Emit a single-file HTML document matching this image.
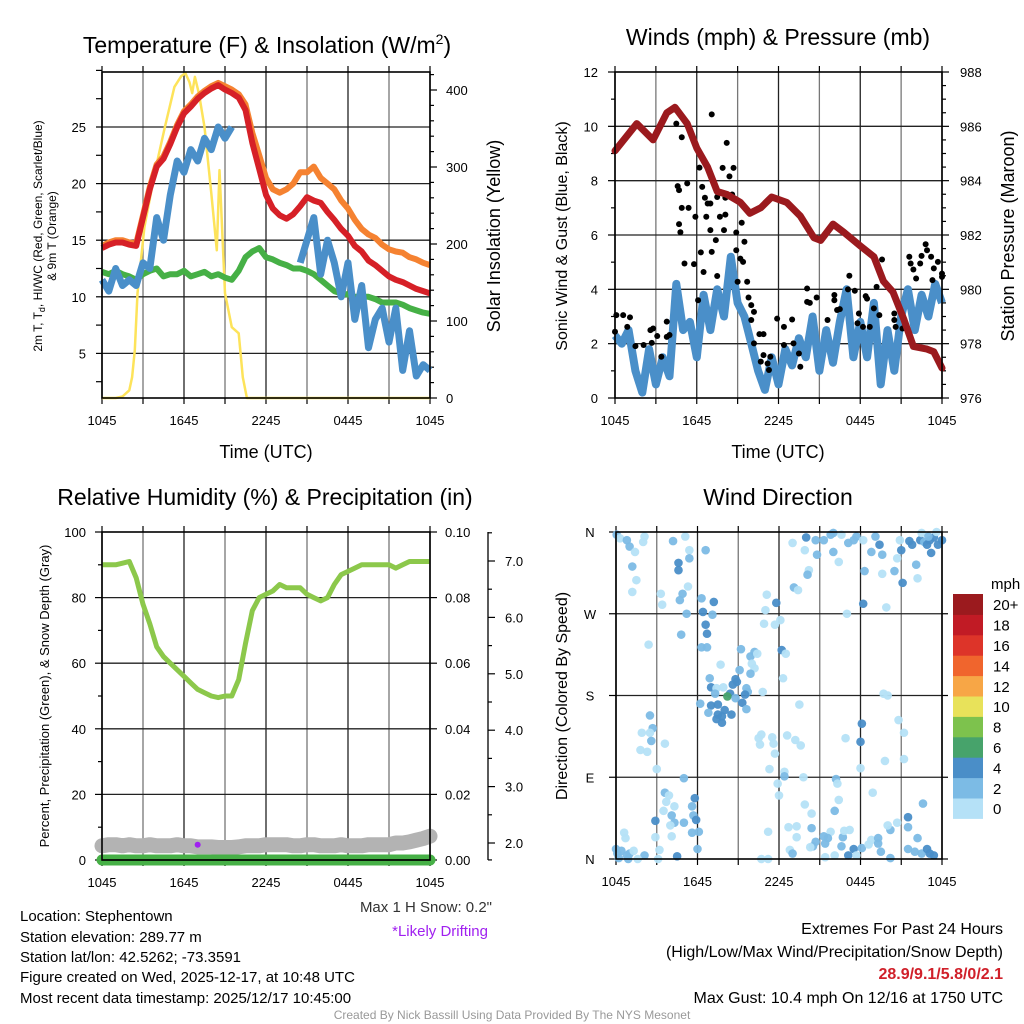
<!DOCTYPE html>
<html><head><meta charset="utf-8"><style>
html,body{margin:0;padding:0;background:#fff;}
svg{display:block;font-family:"Liberation Sans",Arial,sans-serif;}
</style></head><body>
<svg id="chart" width="1024" height="1024" viewBox="0 0 1024 1024" xmlns="http://www.w3.org/2000/svg">
<rect x="0" y="0" width="1024" height="1024" fill="#fff"/>
<text x="267" y="53" font-size="23" text-anchor="middle">Temperature (F) &amp; Insolation (W/m<tspan font-size="14" dy="-9">2</tspan><tspan dy="9">)</tspan></text>
<text x="778" y="45" font-size="23" text-anchor="middle">Winds (mph) &amp; Pressure (mb)</text>
<text x="265" y="505" font-size="23" text-anchor="middle">Relative Humidity (%) &amp; Precipitation (in)</text>
<text x="778" y="505" font-size="23" text-anchor="middle">Wind Direction</text>
<text x="266" y="458" font-size="18" text-anchor="middle">Time (UTC)</text>
<text x="778" y="458" font-size="18" text-anchor="middle">Time (UTC)</text>
<text transform="translate(42,236) rotate(-90)" font-size="12" text-anchor="middle">2m T, T<tspan font-size="9" dy="3">d</tspan><tspan dy="-3">, HI/WC (Red, Green, Scarlet/Blue)</tspan></text>
<text transform="translate(56,236) rotate(-90)" font-size="12" text-anchor="middle">&amp; 9m T (Orange)</text>
<text transform="translate(500,236) rotate(-90)" font-size="18" text-anchor="middle">Solar Insolation (Yellow)</text>
<text transform="translate(567,236) rotate(-90)" font-size="16" text-anchor="middle">Sonic Wind &amp; Gust (Blue, Black)</text>
<text transform="translate(1014,236) rotate(-90)" font-size="18" text-anchor="middle">Station Pressure (Maroon)</text>
<text transform="translate(49,696) rotate(-90)" font-size="13" text-anchor="middle">Percent, Precipitation (Green), &amp; Snow Depth (Gray)</text>
<text transform="translate(567,696) rotate(-90)" font-size="16" text-anchor="middle">Direction (Colored By Speed)</text>
<g font-size="15">
<text x="20" y="921">Location: Stephentown</text>
<text x="20" y="942">Station elevation: 289.77 m</text>
<text x="20" y="962">Station lat/lon: 42.5262; -73.3591</text>
<text x="20" y="982">Figure created on Wed, 2025-12-17, at 10:48 UTC</text>
<text x="20" y="1003">Most recent data timestamp: 2025/12/17 10:45:00</text>
</g>
<text x="492" y="912" font-size="15" text-anchor="end" fill="#333">Max 1 H Snow: 0.2"</text>
<text x="488" y="936" font-size="15" text-anchor="end" fill="#a020f0">*Likely Drifting</text>
<g font-size="16" text-anchor="end">
<text x="1003" y="934">Extremes For Past 24 Hours</text>
<text x="1003" y="957">(High/Low/Max Wind/Precipitation/Snow Depth)</text>
<text x="1003" y="979" font-weight="bold" fill="#d0202a">28.9/9.1/5.8/0/2.1</text>
<text x="1003" y="1003">Max Gust: 10.4 mph On 12/16 at 1750 UTC</text>
</g>
<text x="512" y="1019" font-size="12" text-anchor="middle" fill="#999">Created By Nick Bassill Using Data Provided By The NYS Mesonet</text>
</svg>
<script>
// ===== DATA =====
const halfHours = [0,0.5,1,1.5,2,2.5,3,3.5,4,4.5,5,5.5,6,6.5,7,7.5,8,8.5,9,9.5,10,10.5,11,11.5,12,12.5,13,13.5,14,14.5,15,15.5,16,16.5,17,17.5,18,18.5,19,19.5,20,20.5,21,21.5,22,22.5,23,23.5,24];
const tempRed = [14.3,14.6,14.8,14.8,14.6,14.5,17,19.5,21.5,22.2,23.5,25,26.2,26.8,27.5,28,28.4,28.7,28.3,28,27.6,26.5,23.6,21.3,19,17.8,17.2,16.9,17.3,18,18.8,18.5,18.3,17.5,16.8,16,15.4,14.5,14,13.2,12.8,12.3,11.8,11.5,11.3,11,10.7,10.5,10.3];
const temp9mOrange = [14.5,14.8,15,15,14.8,14.7,17.2,19.7,21.7,22.4,23.7,25.2,26.4,27,27.7,28.2,28.6,28.9,28.6,28.3,27.9,27,24.5,22.5,20.5,19.5,19.2,19.5,20,21,21,21.5,20.5,20,19.5,18.5,17.8,16.8,16,15.5,15.2,14.6,14.2,14,13.9,13.5,13.3,13,12.8];
const dewGreen = [12.2,12,12.3,12,11.8,11.5,12,12.3,12.5,11.8,12,12,12.3,11.8,12,12.2,11.8,12,11.7,11.5,12.3,13.5,14,14.3,13.5,13.3,13,12.8,12.5,12.5,12.3,12,11.5,11,10.5,10.3,10.2,10,10,10,9.8,9.5,9.5,9.5,9.3,9,8.8,8.6,8.5];
const hiwcBlue = [11.5,10.5,12.5,11,11.5,11,13,12.5,17,15,19,22,21,23,22,24,23,25,24,25,null,null,null,null,null,null,null,null,null,13,15,17,12,15,13,10,13,8,11,5.5,8,9,6,9,3.5,7,3,4,3.5];
const solarHours = [0,1,1.5,2,2.2,2.4,2.6,3.1,3.9,4.6,5.3,5.8,6.1,6.4,6.6,6.8,7.1,7.5,8,8.4,8.6,9,9.5,10,10.3,10.6,11,24];
const solarValues = [0,0,2,10,27,62,136,222,296,352,404,418,422,410,396,417,395,352,266,192,296,136,92,84,27,0,0,0];
const windBlue = [2.3,2.0,2.5,1.0,0.2,1.8,0.5,1.5,0.8,4.2,2.5,2.8,1.5,3.8,2.5,4.0,3.0,5.2,3.5,3.0,2.0,1.0,0.3,1.5,0.5,1.8,1.2,2.2,1.5,3.0,1.0,2.5,1.3,2.8,4.0,1.5,2.8,1.5,3.5,0.5,2.5,1.0,3.0,4.0,2.5,3.8,3.0,4.2,3.5];
const pressHours = [0,1.6,2.8,3.8,4.4,5.3,6,6.8,7.5,8.2,9.2,9.9,10.7,11.5,12.6,13.6,14.6,15.1,16,16.8,18,19,19.7,20.4,21.2,21.9,22.9,23.4,24];
const pressValues = [985.1,986.1,985.5,986.5,986.7,986.1,985.2,984.5,983.6,983.5,983.2,982.8,983,983.4,983.2,982.7,981.9,981.8,982.4,982.1,981.6,981.2,980.3,979.9,978.9,977.9,977.8,977.7,977.1];
const gustHours = [0,0.1,0.6,1.1,0.9,1.5,2.1,2.7,2.6,2.8,3.1,3.4,3.8,3.8,4.0,4.5,4.9,4.6,4.7,5.3,4.9,5.4,4.7,4.8,5.1,5.8,6.1,5.9,6.2,6.4,6.6,6.8,7.0,6.7,7.0,7.4,7.1,6.3,6.5,7.5,7.1,8.2,7.9,8.7,8.4,7.5,8.1,8.6,7.7,8.1,8.0,8.9,8.9,9.3,9.5,9.2,9.4,9.0,9.7,9.8,10.0,10.2,10.0,10.2,10.6,10.9,10.9,10.7,11.2,11.4,11.3,11.9,12.4,13.0,12.4,13.1,13.5,13.6,14.1,14.1,14.3,14.8,15.6,16.1,16.1,16.3,16.5,17.2,17.1,17.6,18.4,18.5,19.0,17.9,17.8,18.2,18.7,19.2,19.4,19.6,20.5,20.5,20.6,21.1,21.6,21.7,21.9,22.1,22.4,22.5,22.8,22.9,23.2,23.4,23.7,24.0,24.0,23.3];
const gustValues = [2.44,3.05,3.05,2.97,2.62,1.91,1.95,2.03,2.5,2.56,2.28,1.52,2.81,2.25,2.32,10.1,9.6,7.8,7.65,7.9,7.0,7.0,6.4,6.1,4.95,4.93,3.6,6.67,8.48,7.77,7.37,7.16,7.16,6.67,6.18,5.81,5.38,5.36,4.64,4.49,10.44,9.39,8.47,8.47,8.16,7.4,7.37,7.49,6.67,6.75,6.18,6.09,5.44,6.45,5.75,5.13,5.01,4.28,4.28,3.7,3.42,3.17,2.87,2.01,2.35,2.35,1.58,1.34,1.27,1.52,1.03,2.92,2.62,2.89,1.95,2.01,1.64,1.15,4.03,3.54,3.5,3.7,2.87,3.79,3.6,3.24,3.27,4.5,4.0,3.95,3.75,3.66,3.3,3.11,2.75,2.62,2.62,4.09,3.05,5.1,3.11,2.87,2.62,2.56,5.2,4.95,4.73,4.4,4.95,5.23,5.66,5.44,5.2,4.77,5.01,4.46,4.58,4.34];
const rhGreen = [90,90,90,90.5,91,86,78,72,65,62,60,58,56,54,52,51,50,49.5,50,50,55,66,76,80,81,82,84,83,83,83,81,80,79,80,84,87,88,89,90,90,90,90,90,89,90,91,91,91,91];
const snowDepth = [1.95,1.97,1.97,1.95,1.97,1.95,1.95,1.97,1.95,1.95,1.95,1.97,1.95,1.95,1.93,1.93,1.93,1.92,1.92,1.92,1.93,1.95,1.95,1.95,1.97,1.97,1.97,1.97,1.95,1.95,1.97,1.97,1.95,1.95,1.95,1.97,1.95,1.95,1.95,1.97,1.97,1.97,1.97,2.0,2.0,2.02,2.05,2.08,2.12];
const precipGreen = [0,0,0,0,0,0,0,0,0,0,0,0,0,0,0,0,0,0,0,0,0,0,0,0,0,0,0,0,0,0,0,0,0,0,0,0,0,0,0,0,0,0,0,0,0,0,0,0,0];
const driftHours = [7.0];
const driftValues = [1.97];
const dirHours = [0.05,0.3,0.8,1.0,1.4,2.1,2.0,1.2,1.5,1.2,4.2,5.1,5.4,6.6,4.6,4.6,5.4,5.3,4.9,3.3,3.4,4.7,5.2,6.3,7.2,6.4,7.1,6.6,6.7,4.8,2.4,6.3,6.7,13.0,13.9,14.0,14.7,14.8,15.3,15.8,16.0,16.6,16.0,16.4,14.2,14.1,13.1,13.4,11.1,11.8,11.0,10.9,11.7,12.1,17.0,17.1,17.5,17.7,18.2,18.3,18.2,18.8,19.1,19.4,19.6,19.6,19.9,20.5,20.7,20.9,21.0,21.1,21.6,21.8,22.1,22.2,22.4,22.5,22.7,22.9,23.1,23.2,23.4,23.6,23.7,24.0,23.0,
7.7,9.2,9.9,10.2,10.4,10.0,10.2,9.9,9.1,8.8,8.9,8.6,6.9,7.0,7.4,7.9,7.3,9.6,9.7,9.5,8.4,8.2,8.8,9.3,9.6,6.2,7.0,7.5,8.0,8.5,7.5,7.8,7.8,6.8,7.4,10.8,12.2,12.5,12.3,
13.5,19.7,20.0,20.8,21.2,18.1,18.0,16.9,12.6,13.2,13.6,10.5,10.7,10.6,11.5,11.6,11.7,11.3,12.4,12.4,11.9,12.0,13.8,16.2,16.3,18.0,19.8,21.2,2.5,2.7,2.5,1.9,2.6,3.6,1.8,2.3,3.0,5.0,
3.6,3.7,3.9,4.3,3.5,4.1,2.9,4.3,5.0,5.6,5.8,5.7,5.9,4.0,2.9,4.1,5.6,6.1,0.6,0.7,6.0,3.2,4.5,0.0,0.1,0.4,0.8,1.0,1.3,2.1,1.6,0.9,0.2,3.1,
12.7,13.3,13.3,14.4,13.9,14.4,16.1,16.4,15.8,15.3,15.6,14.7,14.5,14.3,15.4,16.7,16.8,17.2,16.6,17.5,17.1,18.1,17.7,18.9,18.6,18.8,19.3,19.3,19.5,20.2,20.0,20.7,21.5,21.5,22.2,22.6,21.5,22.0,22.5,22.9,23.1,23.4,20.2,10.7,11.2,11.2,12.8,13.0,15.4,16.1];
const dirDegrees = [357,353,351,344,338,355,349,322,307,294,350,355,340,340,326,318,331,300,292,292,280,285,270,287,283,272,269,258,248,247,236,233,233,348,340,354,351,335,351,357,359,357,338,327,318,313,299,296,291,282,274,259,258,263,270,348,351,355,351,317,281,338,355,346,335,314,277,317,331,351,340,304,350,346,324,309,351,359,349,346,351,337,354,360,346,351,355,
214,231,223,228,226,215,210,204,208,198,195,192,199,189,188,189,182,188,184,181,182,179,177,172,165,171,169,170,164,159,159,157,150,161,154,184,230,226,199,
170,182,180,153,139,149,129,133,136,131,125,133,137,126,134,127,116,99,96,91,83,70,90,88,83,100,108,110,158,144,139,139,130,127,120,118,99,89,
73,63,70,58,53,48,42,40,40,58,67,48,43,37,24,25,29,30,29,23,11,10,3,11,6,9,4,6,9,4,0,0,1,0,
35,36,24,34,60,50,53,65,30,25,23,19,14,13,17,24,31,32,14,11,4,12,4,73,16,21,23,17,8,32,37,40,46,35,23,61,11,8,6,11,6,4,1,0,0,30,10,6,2,4];
const dirSpeeds = [3,1,3,3,1,1,1,3,1,1,3,1,1,3,4.5,4.5,3,1,3,1,1,3,3,3,4.5,4.5,3,4.5,4.5,3,1,3,3,1,1,4.5,3,3,3,3,3,1,3,1,1,3,3,1,1,4.5,1,1,1,1,1,3,3,3,1,3,4.5,3,3,4.5,3,1,1,3,1,1,4.5,4.5,4.5,4.5,3,1,4.5,1,3,4.5,4.5,4.5,4.5,1,4.5,4.5,3,
1,3,3,3,1,1,1,3,3,4.5,4.5,4.5,3,4.5,1,1,3,3,3,4.5,4.5,6.5,3,4.5,3,3,4.5,4.5,4.5,4.5,4.5,4.5,4.5,3,4.5,1,4.5,1,1,
1,1,1,1,1,4.5,4.5,1,1,1,1,1,1,1,1,1,1,1,1,3,1,1,1,3,1,1,1,1,3,3,1,1,3,1,1,1,1,3,
3,1,1,1,1,3,4.5,3,3,3,4.5,3,4.5,1,1,1,3,3,1,1,3,1,4.5,3,3,3,3,3,1,3,1,3,3,1,
1,1,1,3,1,1,3,1,1,3,3,3,3,1,3,3,1,1,3,4.5,4.5,3,1,1,1,1,3,3,3,3,1,1,4.5,3,3,3,3,3,3,4.5,4.5,4.5,3,1,1,1,1,3,1,1];
const speedLabels = ["0","2","4","6","8","10","12","14","16","18","20+"];
const speedColors = ["#b5e1f7","#7cbbe5","#4a8ec8","#47a36b","#7dc24d","#e8e25a","#f7a646","#f0652d","#dd3429","#c11b25","#9b1a1e"];
const xTickLabels = ["1045","1645","2245","0445","1045"];
const tempTicks = [5,10,15,20,25];
const solarTicks = [0,100,200,300,400];
const windTicks = [0,2,4,6,8,10,12];
const pressTicks = [976,978,980,982,984,986,988];
const rhTicks = [0,20,40,60,80,100];
const precipTicks = ["0.00","0.02","0.04","0.06","0.08","0.10"];
const snowTicks = ["2.0","3.0","4.0","5.0","6.0","7.0"];
const dirTickLabels = ["N","E","S","W","N"];

// ===== HELPERS =====
const NS = "http://www.w3.org/2000/svg";
const svg = document.getElementById('chart');
function mk(tag, attrs, parent) {
  const e = document.createElementNS(NS, tag);
  for (const k in attrs) e.setAttribute(k, attrs[k]);
  (parent || svg).appendChild(e);
  return e;
}
function lin(d0, d1, r0, r1) { return v => r0 + (v - d0) * (r1 - r0) / (d1 - d0); }
function pathFrom(xs, ys, xf, yf) {
  let d = "", pen = false;
  for (let i = 0; i < xs.length; i++) {
    if (ys[i] === null || ys[i] === undefined) { pen = false; continue; }
    d += (pen ? "L" : "M") + xf(xs[i]).toFixed(1) + "," + yf(ys[i]).toFixed(1);
    pen = true;
  }
  return d;
}

// ===== PANEL FRAMES / GRIDS =====
const panels = [
  {name: "temp", x0: 102, x1: 430, y0: 72, y1: 398},
  {name: "winds", x0: 615, x1: 942, y0: 72, y1: 398},
  {name: "humidity", x0: 102, x1: 430, y0: 532, y1: 860},
  {name: "direction", x0: 616, x1: 942, y0: 532, y1: 859}
];
panels.forEach(p => {
  const xs = lin(0, 24, p.x0, p.x1);
  const g = mk('g', {});
  
  
  for (let h = 0; h <= 24; h += 3) {
    const x = xs(h);
    const gl = mk('line', {x1: x, x2: x, y1: p.y0, y2: p.y1, stroke: (h % 6 === 0) ? "#222" : "#777", "stroke-width": 1.3}, g);
    
    
    const tk = mk('line', {x1: x, x2: x, y1: p.y1, y2: p.y1 + 6, stroke: "#000", "stroke-width": 1.2}, g);
    
    
    const tk2 = mk('line', {x1: x, x2: x, y1: p.y0, y2: p.y0 - 6, stroke: "#000", "stroke-width": 1.2}, g);
    
    
  }
  xTickLabels.forEach((lab, i) => {
    const t = mk('text', {x: xs(i * 6), y: p.y1 + 27, "font-size": 13, "text-anchor": "middle"}, g);
    t.textContent = lab;
    
    
  });
  p.xs = xs;
  p.g = g;
});
function hgrid(p, y, dark) {
  const l = mk('line', {x1: p.x0, x2: p.x1, y1: y, y2: y, stroke: dark ? "#222" : "#777", "stroke-width": 1.3}, p.g);
  
  
}
function tick(x1, x2, y, g) {
  const l = mk('line', {x1: x1, x2: x2, y1: y, y2: y, stroke: "#000", "stroke-width": 1.2}, g);
  
  
}
function label(x, y, txt, anchor, g, size) {
  const t = mk('text', {x: x, y: y + 5, "font-size": size || 13, "text-anchor": anchor}, g);
  t.textContent = txt;
  
  
}

// ===== PANEL 1: TEMPERATURE =====
const P1 = panels[0];
const yT = lin(0, 25, 410, 127);
const yS = lin(0, 400, 398, 90);
tempTicks.forEach(v => { hgrid(P1, yT(v), true); label(86, yT(v), String(v), "end", P1.g); });
for (let v = 2.5; v <= 30; v += 2.5) tick(P1.x0 - 6, P1.x0, yT(v), P1.g);
for (let w = 0; w <= 420; w += 20) tick(P1.x1, P1.x1 + (w % 100 === 0 ? 7 : 4), yS(w), P1.g);
solarTicks.forEach(w => label(446, yS(w), String(w), "start", P1.g));
const solarLine = mk('path', {d: pathFrom(solarHours, solarValues, P1.xs, yS), fill: "none", stroke: "#fde35a", "stroke-width": 2.5, "stroke-linejoin": "round"});


const orangeLine = mk('path', {d: pathFrom(halfHours, temp9mOrange, P1.xs, yT), fill: "none", stroke: "#f58231", "stroke-width": 6, "stroke-linejoin": "round"});


const greenLine = mk('path', {d: pathFrom(halfHours, dewGreen, P1.xs, yT), fill: "none", stroke: "#46b046", "stroke-width": 6, "stroke-linejoin": "round"});


const blueLine = mk('path', {d: pathFrom(halfHours, hiwcBlue, P1.xs, yT), fill: "none", stroke: "#4a8fc9", "stroke-width": 7, "stroke-linejoin": "round"});


const redLine = mk('path', {d: pathFrom(halfHours, tempRed, P1.xs, yT), fill: "none", stroke: "#d62027", "stroke-width": 6, "stroke-linejoin": "round"});



// ===== PANEL 2: WINDS =====
const P2 = panels[1];
const yW = lin(0, 12, 398, 72);
const yP = lin(976, 988, 398, 72);
windTicks.forEach(v => { if (v > 0 && v < 12) hgrid(P2, yW(v), true); label(598, yW(v), String(v), "end", P2.g); });
for (let v = 0; v <= 12; v += 1) tick(P2.x0 - (v % 2 === 0 ? 7 : 4), P2.x0, yW(v), P2.g);
for (let p = 976; p <= 988; p += 0.5) tick(P2.x1, P2.x1 + (p % 2 === 0 ? 7 : 4), yP(p), P2.g);
pressTicks.forEach(p => label(960, yP(p), String(p), "start", P2.g));
const windLine = mk('path', {d: pathFrom(halfHours, windBlue, P2.xs, yW), fill: "none", stroke: "#4a8fc9", "stroke-width": 8, "stroke-linejoin": "round"});


const gustG = mk('g', {});


gustHours.forEach((h, i) => {
  const c = mk('circle', {cx: P2.xs(h), cy: yW(gustValues[i]), r: 3, fill: "#000"}, gustG);
  
  
});
const pressLine = mk('path', {d: pathFrom(pressHours, pressValues, P2.xs, yP), fill: "none", stroke: "#9b1a1e", "stroke-width": 7, "stroke-linejoin": "round", "stroke-linecap": "round"});



// ===== PANEL 3: HUMIDITY =====
const P3 = panels[2];
const yRH = lin(0, 100, 860, 532);
const yPr = lin(0, 0.1, 860, 532);
const ySn = lin(2, 7, 843, 561);
rhTicks.forEach(v => { if (v > 0 && v < 100) hgrid(P3, yRH(v), true); label(86, yRH(v), String(v), "end", P3.g); });
for (let v = 0; v <= 100; v += 10) tick(P3.x0 - (v % 20 === 0 ? 7 : 4), P3.x0, yRH(v), P3.g);
precipTicks.forEach(s => { tick(P3.x1, P3.x1 + 7, yPr(parseFloat(s)), P3.g); label(445, yPr(parseFloat(s)), s, "start", P3.g); });
const snowAxis = mk('line', {x1: 488, x2: 488, y1: 532, y2: 860, stroke: "#000", "stroke-width": 1.3});


for (let v = 2; v <= 7.5; v += 0.5) tick(488, 488 + (v % 1 === 0 ? 7 : 4), ySn(v), P3.g);
tick(488, 492, ySn(1.7), P3.g);
snowTicks.forEach(s => label(505, ySn(parseFloat(s)), s, "start", P3.g));
const rhLine = mk('path', {d: pathFrom(halfHours, rhGreen, P3.xs, yRH), fill: "none", stroke: "#8cc84b", "stroke-width": 5, "stroke-linejoin": "round"});


const snowLine = mk('path', {d: pathFrom(halfHours, snowDepth, P3.xs, ySn), fill: "none", stroke: "#b3b3b3", "stroke-width": 15, "stroke-linejoin": "round", "stroke-linecap": "round"});


const precLine = mk('path', {d: pathFrom(halfHours, precipGreen, P3.xs, yPr), fill: "none", stroke: "#46b046", "stroke-width": 11, "stroke-linecap": "round"});


const base = mk('line', {x1: P3.x0, x2: P3.x1, y1: 860, y2: 860, stroke: "#000", "stroke-width": 1.3});


driftHours.forEach((h, i) => {
  const c = mk('circle', {cx: P3.xs(h), cy: ySn(driftValues[i]), r: 3, fill: "#a020f0"});
  
  
});

// ===== PANEL 4: WIND DIRECTION =====
const P4 = panels[3];
const yD = lin(0, 360, 859, 532);
dirTickLabels.forEach((lab, i) => {
  const y = yD(i * 90);
  if (i > 0 && i < 4) hgrid(P4, y, true);
  tick(P4.x0 - 7, P4.x0, y, P4.g);
  tick(P4.x1, P4.x1 + 6, y, P4.g);
  label(590, y, lab, "middle", P4.g);
});
function speedColor(s) { return speedColors[Math.min(10, Math.max(0, Math.floor(s / 2)))]; }
const dirG = mk('g', {});


dirHours.forEach((h, i) => {
  const c = mk('circle', {cx: P4.xs(h), cy: yD(dirDegrees[i]), r: 4.3, fill: speedColor(dirSpeeds[i]), "fill-opacity": 0.95}, dirG);
  
  
});

// frames on top
panels.forEach(p => {
  const r = mk('rect', {x: p.x0, y: p.y0, width: p.x1 - p.x0, height: p.y1 - p.y0, fill: "none", stroke: "#000", "stroke-width": 1.6});
  
  
});

// ===== COLORBAR =====
const cb = mk('g', {});


const mphT = mk('text', {x: 991, y: 589, "font-size": 15}, cb);
mphT.textContent = "mph";


const rowH = 20.4;
speedLabels.forEach((lab, i) => {
  const top = 594 + (10 - i) * rowH;
  const r = mk('rect', {x: 953, y: top, width: 30, height: rowH + 0.5, fill: speedColors[i]}, cb);
  
  
  const t = mk('text', {x: 993, y: top + rowH / 2 + 6, "font-size": 15}, cb);
  t.textContent = lab;
  
  
});
</script>
</body></html>
